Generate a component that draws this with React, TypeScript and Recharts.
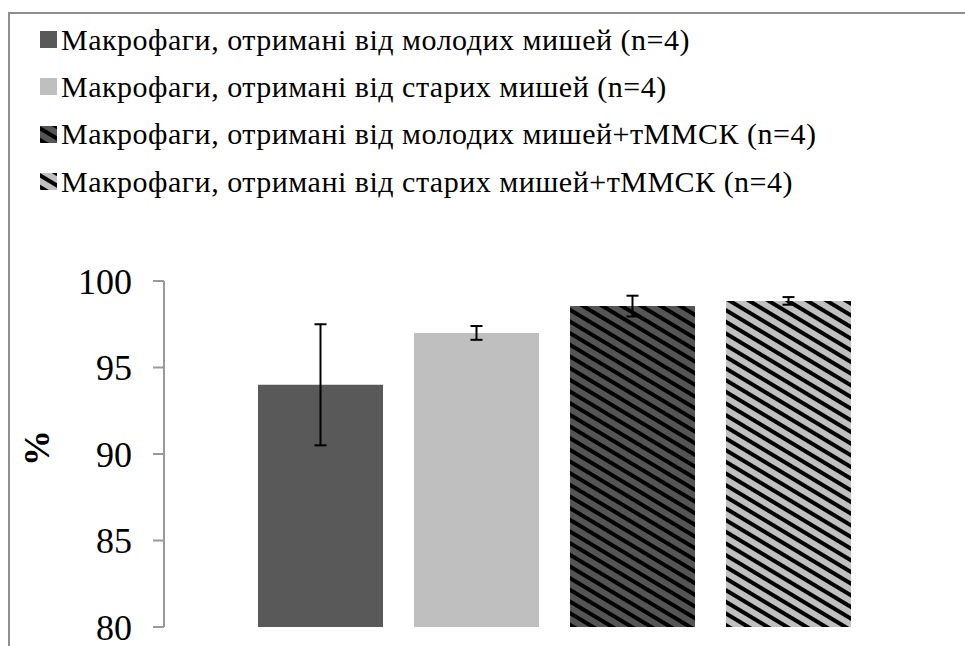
import React from 'react'
import { BarChart, Bar, XAxis, YAxis, ErrorBar, Label } from 'recharts'

const seriesNames = [
  'Макрофаги, отримані від молодих мишей (n=4)',
  'Макрофаги, отримані від старих мишей (n=4)',
  'Макрофаги, отримані від молодих мишей+тММСК (n=4)',
  'Макрофаги, отримані від старих мишей+тММСК (n=4)',
]
const seriesValues = [94, 97, 98.55, 98.85]
const seriesErrors = [3.5, 0.4, 0.6, 0.22]
const yTicks = [80, 85, 90, 95, 100]

const fills = ['#595959', '#bfbfbf', 'url(#hatchDark)', 'url(#hatchLight)']
const serif = 'Times New Roman, Liberation Serif, DejaVu Serif, serif'

// one category, one bar per group
const row: Record<string, any> = { name: '' }
seriesValues.forEach((v, i) => {
  row['s' + i] = v
  row['e' + i] = seriesErrors[i]
})
const data = [row]

const Hatch = ({ id, bg }: { id: string; bg: string }) => (
  <pattern id={id} patternUnits="userSpaceOnUse" width={10} height={10} patternTransform="rotate(31)">
    <rect x={0} y={0} width={10} height={10} fill={bg} />
    <rect x={0} y={0} width={10} height={4} fill="#000" />
  </pattern>
)

const LegendBox = () => (
  <div style={{ position: 'absolute', left: 40, top: 16, fontFamily: serif, fontSize: 30, letterSpacing: 0.5, color: '#000' }}>
    {seriesNames.map((name, i) => (
      <div key={name} style={{ display: 'flex', alignItems: 'center', height: 47.3, whiteSpace: 'nowrap' }}>
        <svg width={17} height={17} style={{ marginRight: 4, flex: 'none' }}>
          <rect width={17} height={17} fill={fills[i]} />
        </svg>
        <span>{name}</span>
      </div>
    ))}
  </div>
)

export default function App() {
  return (
    <div style={{ position: 'absolute', left: 0, top: 0, width: 965, height: 646, overflow: 'hidden', background: '#fff' }}>
      <div style={{ position: 'absolute', left: 8, top: 12, width: 1200, height: 900, borderLeft: '2px solid #8e8e8e', borderTop: '2px solid #8e8e8e' }} />
      <LegendBox />
      <div style={{ position: 'absolute', left: 0, top: 0 }}>
        <BarChart width={965} height={646} data={data} margin={{ top: 281, right: 22, bottom: 19, left: 0 }} barCategoryGap={94} barGap={31}>
          <defs>
            <Hatch id="hatchDark" bg="#555555" />
            <Hatch id="hatchLight" bg="#c0c0c0" />
          </defs>
          <XAxis dataKey="name" tick={false} tickLine={false} height={0} axisLine={{ stroke: '#999', strokeWidth: 2 }} />
          <YAxis
            width={164}
            domain={[80, 100]}
            ticks={yTicks}
            interval={0}
            tickSize={11}
            tickMargin={21}
            axisLine={{ stroke: '#999', strokeWidth: 2 }}
            tickLine={{ stroke: '#999', strokeWidth: 2 }}
            tick={{ fill: '#000', fontSize: 36, fontFamily: serif }}
          >
            <Label
              content={({ viewBox }: any) => (
                <text
                  x={viewBox.x + 37}
                  y={viewBox.y + viewBox.height / 2 - 6}
                  transform={`rotate(-90, ${viewBox.x + 37}, ${viewBox.y + viewBox.height / 2 - 6})`}
                  textAnchor="middle"
                  dominantBaseline="central"
                  fontFamily={serif}
                  fontWeight="bold"
                  fontSize={36}
                  fill="#000"
                >
                  %
                </text>
              )}
            />
          </YAxis>
          {seriesValues.map((_, i) => (
            <Bar key={i} dataKey={'s' + i} name={seriesNames[i]} fill={fills[i]} isAnimationActive={false}>
              <ErrorBar dataKey={'e' + i} width={6} stroke="#000" strokeWidth={2} direction="y" />
            </Bar>
          ))}
        </BarChart>
      </div>
    </div>
  )
}
